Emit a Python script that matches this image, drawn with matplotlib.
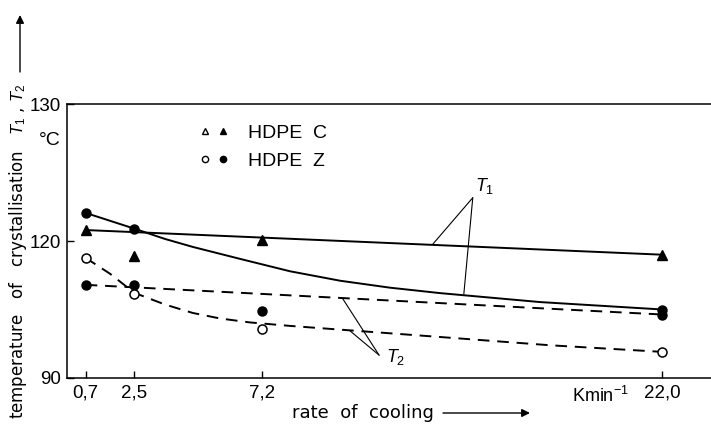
import numpy as np
import matplotlib.pyplot as plt
from matplotlib.lines import Line2D
from matplotlib.legend_handler import HandlerTuple

plt.rcParams['font.family'] = ['Liberation Sans', 'DejaVu Sans']
plt.rcParams['mathtext.fontset'] = 'custom'
plt.rcParams['mathtext.rm'] = 'Liberation Sans'
plt.rcParams['mathtext.it'] = 'Liberation Sans:italic'

# rate of cooling, K/min
rate = [0.7, 2.5, 7.2, 22.0]
rate_labels = ['0,7', '2,5', '7,2', '22,0']

# measured crystallisation temperatures, °C
c_t1 = [120.8, 116.7, 120.05, 117.0]          # HDPE C, filled triangles
z_t1 = [122.05, 120.9, 105.0]                  # HDPE Z, upper filled circles
z_t1_rate = [0.7, 2.5, 22.0]
z_t2 = [110.4, 110.4, 104.6, 103.9]            # HDPE Z, lower filled circles
ring_t2 = [116.3, 108.5, 100.65, 95.7]         # open circles

# hand-drawn fit curves
c_t1_fit_x = [0.7, 22.0]
c_t1_fit_y = [120.8, 117.0]
z_t1_fit_x = [0.7, 2.5, 3.63, 4.66, 6.4, 8.25, 10.1, 11.94, 13.79, 17.48, 22.0]
z_t1_fit_y = [122.05, 120.9, 120.15, 118.7, 116.09, 113.37, 111.3, 109.78,
              108.59, 106.63, 105.0]
z_t2_fit_x = [0.7, 22.0]
z_t2_fit_y = [110.4, 103.9]
ring_fit_x = [0.7, 1.6, 2.5, 3.63, 4.66, 5.66, 6.77, 8.25, 10.1, 12.31,
              13.79, 17.85, 22.0]
ring_fit_y = [116.3, 112.83, 108.65, 106.09, 104.24, 103.04, 102.17, 101.41,
              100.59, 99.63, 98.98, 97.17, 95.72]

y_ticks = [90, 120, 130]


# the temperature axis is stretched above 120 °C
def fwd(y):
    y = np.asarray(y, float)
    return np.where(y < 120, (y - 90) / 30.0, 1 + (y - 120) / 10.0)


def inv(u):
    u = np.asarray(u, float)
    return np.where(u < 1, 90 + 30.0 * u, 120 + 10.0 * (u - 1))


W, H = 711, 426
fig = plt.figure(figsize=(W / 100, H / 100), dpi=100)
ax = fig.add_axes([66.7 / W, 48 / H, 1 - 66.7 / W, 274 / H])
ax.set_yscale('function', functions=(fwd, inv))
ax.set_xlim(0, 23.8)
ax.set_ylim(90, 130)

lw = 1.4
dash = (0, (6, 4))
ax.plot(c_t1_fit_x, c_t1_fit_y, color='k', lw=lw)
ax.plot(z_t1_fit_x, z_t1_fit_y, color='k', lw=lw)
ax.plot(z_t2_fit_x, z_t2_fit_y, color='k', lw=lw, ls=dash)
ax.plot(ring_fit_x, ring_fit_y, color='k', lw=lw, ls=dash)

ms = 6.5
ax.plot(rate, c_t1, ls='none', marker='^', color='k', ms=ms, zorder=3)
ax.plot(z_t1_rate, z_t1, ls='none', marker='o', color='k', ms=ms, zorder=3)
ax.plot(rate, z_t2, ls='none', marker='o', color='k', ms=ms, zorder=3)
ax.plot(rate, ring_t2, ls='none', marker='o', mfc='white', mec='k',
        mew=1.1, ms=ms, zorder=3)

# T1 / T2 leader lines
lead = dict(arrowstyle='-', lw=0.8, color='k', shrinkA=0, shrinkB=0)
for xy in [(13.53, 119.35), (14.67, 108.4)]:
    ax.annotate('', xy=xy, xytext=(15.0, 123.16), arrowprops=lead)
ax.text(15.1, 123.3, '$T_1$', fontsize=13, ha='left', va='bottom')
for xy in [(10.17, 107.6), (10.46, 100.35)]:
    ax.annotate('', xy=xy, xytext=(11.54, 95.0), arrowprops=lead)
ax.text(11.8, 94.6, '$T_2$', fontsize=13, ha='left', va='center')

# legend: open and filled symbol side by side
small = 4.5
h_c = (Line2D([], [], ls='none', marker='^', mfc='white', mec='k', ms=small),
       Line2D([], [], ls='none', marker='^', color='k', ms=small))
h_z = (Line2D([], [], ls='none', marker='o', mfc='white', mec='k', ms=small),
       Line2D([], [], ls='none', marker='o', color='k', ms=small))
ax.legend([h_c, h_z], ['HDPE  C', 'HDPE  Z'],
          handler_map={tuple: HandlerTuple(ndivide=None, pad=0.617)},
          frameon=False, fontsize=14, handlelength=1.235, handletextpad=1.13,
          labelspacing=0.55, borderpad=0, borderaxespad=0, loc='upper left',
          bbox_to_anchor=(202 / W, 1 - 124 / H), bbox_transform=fig.transFigure)

ax.set_xticks(rate)
ax.set_xticklabels(rate_labels)
ax.set_yticks(y_ticks)
ax.set_yticklabels([str(t) for t in y_ticks])
ax.minorticks_off()
ax.tick_params(direction='in', length=5, width=1, labelsize=13.5)
ax.tick_params(axis='x', pad=5)
ax.tick_params(axis='y', pad=4)
ax.spines['right'].set_visible(False)
for s in ['left', 'top', 'bottom']:
    ax.spines[s].set_linewidth(1.1)

fig.text(50 / W, 1 - 140 / H, '°C', fontsize=14, ha='center', va='center')
fig.text(600 / W, 1 - 396 / H, 'Kmin$^{-1}$', fontsize=13, ha='center', va='center')

fig.text(18 / W, 1 - 251 / H, 'temperature   of   crystallisation   $T_1$ , $T_2$',
         fontsize=12, family='DejaVu Sans', rotation=90, ha='center', va='center')
fig.text(363 / W, 1 - 413 / H, 'rate  of  cooling', fontsize=13,
         family='DejaVu Sans', ha='center', va='center')

arrow = dict(arrowstyle='-|>', lw=1, color='k', mutation_scale=12,
             shrinkA=0, shrinkB=0)
ax.annotate('', xy=(20, H - 15), xytext=(20, H - 72),
            xycoords='figure pixels', textcoords='figure pixels', arrowprops=arrow)
ax.annotate('', xy=(530, 13), xytext=(443, 13),
            xycoords='figure pixels', textcoords='figure pixels', arrowprops=arrow)

fig.savefig('out.png', dpi=100)
